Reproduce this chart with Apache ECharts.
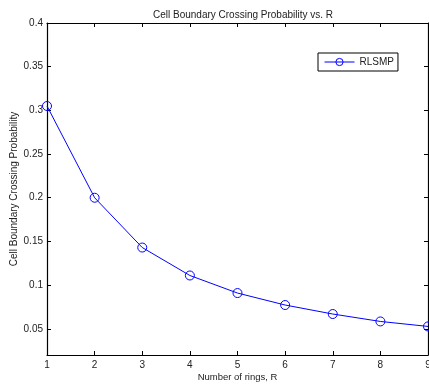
<!DOCTYPE html>
<html>
<head>
<meta charset="utf-8">
<script src="https://cdn.jsdelivr.net/npm/echarts@6/dist/echarts.min.js"></script>
<style>
  html, body { margin: 0; padding: 0; background: #fff; }
  #box { width: 429px; height: 385px; }
</style>
</head>
<body>
<div id="box"></div>
<script>
// rings R and the crossing probability
var rings = [1, 2, 3, 4, 5, 6, 7, 8, 9]
var rlsmp = [0.305, 0.200, 0.143, 0.111, 0.0909, 0.0772, 0.0669, 0.0584, 0.0527]
var yTicks = [0.05, 0.1, 0.15, 0.2, 0.25, 0.3, 0.35, 0.4]

var font = 'Liberation Sans, Helvetica, Arial, sans-serif'
var ink = '#222'

var tickStyle = { inside: true, length: 4, lineStyle: { color: '#000', width: 1 } }
var lineStyle = { lineStyle: { color: '#000', width: 1.2 } }

var option = {
  animation: false,
  title: {
    text: 'Cell Boundary Crossing Probability vs. R',
    left: 238,
    top: 5,
    textAlign: 'center',
    textStyle: { fontFamily: font, fontSize: 10, fontWeight: 'normal', color: ink }
  },
  legend: {
    left: 318,
    top: 53,
    padding: [4, 4, 4, 6],
    itemWidth: 30,
    itemHeight: 9,
    itemGap: 4,
    borderColor: '#000',
    borderWidth: 1,
    backgroundColor: '#fff',
    lineStyle: { width: 1 },
    itemStyle: { borderWidth: 1 },
    textStyle: { fontFamily: font, fontSize: 10, color: ink },
    data: ['RLSMP']
  },
  grid: { left: 47, right: 1, top: 23, bottom: 30, outerBoundsMode: 'none', containLabel: false },
  xAxis: [
    {
      type: 'value',
      min: 1,
      max: 9,
      interval: 1,
      name: 'Number of rings, R',
      nameLocation: 'middle',
      nameGap: 17,
      nameMoveOverlap: false,
      nameTextStyle: { fontFamily: font, fontSize: 9.5, color: ink },
      axisLine: lineStyle,
      axisTick: tickStyle,
      axisLabel: { margin: 5, fontFamily: font, fontSize: 10, color: ink },
      splitLine: { show: false }
    },
    {
      type: 'value',
      position: 'top',
      min: 1,
      max: 9,
      interval: 1,
      axisLine: lineStyle,
      axisTick: tickStyle,
      axisLabel: { show: false },
      splitLine: { show: false }
    }
  ],
  yAxis: [
    {
      type: 'value',
      min: 0.02,
      max: 0.4,
      name: 'Cell Boundary Crossing Probability',
      nameLocation: 'middle',
      nameGap: 28,
      nameMoveOverlap: false,
      nameTextStyle: { fontFamily: font, fontSize: 10, color: ink },
      axisLine: lineStyle,
      axisTick: Object.assign({ customValues: yTicks }, tickStyle),
      axisLabel: {
        customValues: yTicks,
        margin: 4,
        fontFamily: font,
        fontSize: 10,
        color: ink
      },
      splitLine: { show: false }
    },
    {
      type: 'value',
      position: 'right',
      min: 0.02,
      max: 0.4,
      axisLine: lineStyle,
      axisTick: Object.assign({ customValues: yTicks }, tickStyle),
      axisLabel: { show: false },
      splitLine: { show: false }
    }
  ],
  series: [
    {
      name: 'RLSMP',
      type: 'line',
      data: rings.map(function (r, i) { return [r, rlsmp[i]] }),
      symbol: 'circle',
      symbolSize: 9,
      clip: false,
      color: '#0000ff',
      lineStyle: { color: '#0000ff', width: 1 },
      itemStyle: { color: 'rgba(255,255,255,0)', borderColor: '#0000ff', borderWidth: 1 },
      emphasis: { disabled: true }
    }
  ]
}

var chart = echarts.init(document.getElementById('box'))
chart.setOption(option)
</script>
</body>
</html>
